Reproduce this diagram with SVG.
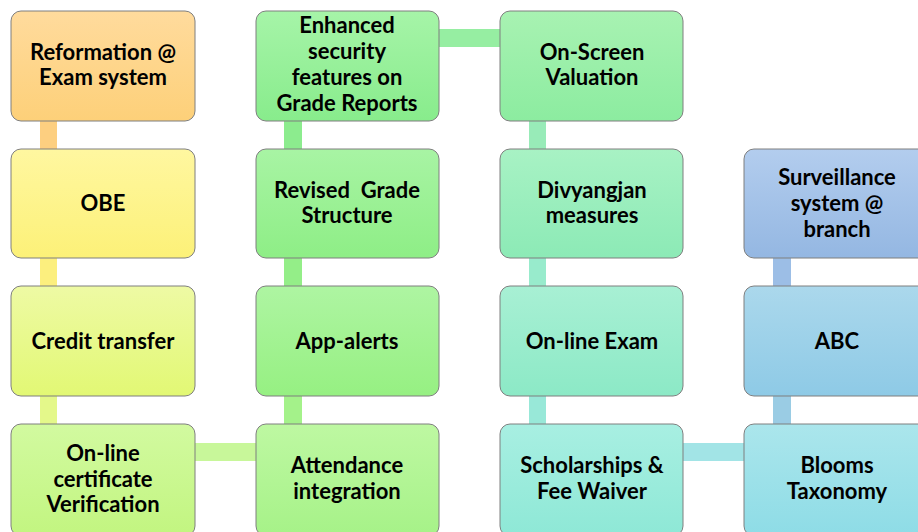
<svg xmlns="http://www.w3.org/2000/svg" width="918" height="532" viewBox="0 0 918 532">
<defs>
<linearGradient id="g1" x1="0" y1="0" x2="0" y2="1"><stop offset="0" stop-color="#FFDB9D"/><stop offset="1" stop-color="#FDD079"/></linearGradient>
<linearGradient id="g2" x1="0" y1="0" x2="0" y2="1"><stop offset="0" stop-color="#FFF7A0"/><stop offset="1" stop-color="#FCF178"/></linearGradient>
<linearGradient id="g3" x1="0" y1="0" x2="0" y2="1"><stop offset="0" stop-color="#EEFAA4"/><stop offset="1" stop-color="#E2F874"/></linearGradient>
<linearGradient id="g4" x1="0" y1="0" x2="0" y2="1"><stop offset="0" stop-color="#D2FAA0"/><stop offset="1" stop-color="#C2F580"/></linearGradient>
<linearGradient id="g5" x1="0" y1="0" x2="0" y2="1"><stop offset="0" stop-color="#BEF8A2"/><stop offset="1" stop-color="#A6F288"/></linearGradient>
<linearGradient id="g6" x1="0" y1="0" x2="0" y2="1"><stop offset="0" stop-color="#AEF5A2"/><stop offset="1" stop-color="#96F082"/></linearGradient>
<linearGradient id="g7" x1="0" y1="0" x2="0" y2="1"><stop offset="0" stop-color="#A8F4A4"/><stop offset="1" stop-color="#8EEE86"/></linearGradient>
<linearGradient id="g8" x1="0" y1="0" x2="0" y2="1"><stop offset="0" stop-color="#A6F4A8"/><stop offset="1" stop-color="#88EC8C"/></linearGradient>
<linearGradient id="g9" x1="0" y1="0" x2="0" y2="1"><stop offset="0" stop-color="#A8F2B2"/><stop offset="1" stop-color="#8CECA0"/></linearGradient>
<linearGradient id="g10" x1="0" y1="0" x2="0" y2="1"><stop offset="0" stop-color="#A8F2C4"/><stop offset="1" stop-color="#8CEAB6"/></linearGradient>
<linearGradient id="g11" x1="0" y1="0" x2="0" y2="1"><stop offset="0" stop-color="#A8F0D4"/><stop offset="1" stop-color="#8CE9C6"/></linearGradient>
<linearGradient id="g12" x1="0" y1="0" x2="0" y2="1"><stop offset="0" stop-color="#A8EFE2"/><stop offset="1" stop-color="#8EE8D6"/></linearGradient>
<linearGradient id="g13" x1="0" y1="0" x2="0" y2="1"><stop offset="0" stop-color="#ABE6EC"/><stop offset="1" stop-color="#8EDCE6"/></linearGradient>
<linearGradient id="g14" x1="0" y1="0" x2="0" y2="1"><stop offset="0" stop-color="#ABD8EC"/><stop offset="1" stop-color="#8ECAE6"/></linearGradient>
<linearGradient id="g15" x1="0" y1="0" x2="0" y2="1"><stop offset="0" stop-color="#B3CDEE"/><stop offset="1" stop-color="#94B7E2"/></linearGradient>
</defs>
<style>
.box{stroke:#7f7f7f;stroke-width:1}
.t{font-family:Lato,"Open Sans","Liberation Sans",sans-serif;font-weight:bold;font-size:22px;fill:#000;text-anchor:middle}
</style>
<rect width="918" height="532" fill="#ffffff"/>
<g id="connectors">
<rect x="40" y="120" width="17" height="30" fill="#FDCF80"/>
<rect x="40" y="258" width="17" height="29" fill="#FCEF7E"/>
<rect x="40" y="396" width="17" height="29" fill="#E4F88A"/>
<rect x="194" y="443" width="63" height="18" fill="#C8F79A"/>
<rect x="284" y="396" width="18" height="29" fill="#A4F28A"/>
<rect x="284" y="258" width="18" height="29" fill="#94EE88"/>
<rect x="284" y="120" width="18" height="30" fill="#8CEC8E"/>
<rect x="438" y="29" width="63" height="18" fill="#96EEA2"/>
<rect x="529" y="120" width="17" height="30" fill="#98EBB8"/>
<rect x="529" y="258" width="17" height="29" fill="#98EBCC"/>
<rect x="529" y="396" width="17" height="29" fill="#98E8D8"/>
<rect x="682" y="443" width="63" height="18" fill="#A2E4E6"/>
<rect x="773" y="396" width="18" height="29" fill="#9ACCE4"/>
<rect x="773" y="258" width="18" height="29" fill="#9CBEE6"/>
</g>
<g id="n1"><rect class="box" x="11" y="11" width="184" height="110" rx="10" fill="url(#g1)"/><text class="t" x="103" y="60">Reformation @</text><text class="t" x="103" y="85">Exam system</text></g>
<g id="n2"><rect class="box" x="11" y="149" width="184" height="109" rx="10" fill="url(#g2)"/><text class="t" x="103" y="211">OBE</text></g>
<g id="n3"><rect class="box" x="11" y="286" width="184" height="110" rx="10" fill="url(#g3)"/><text class="t" x="103" y="349">Credit transfer</text></g>
<g id="n4"><rect class="box" x="11" y="424" width="184" height="112" rx="10" fill="url(#g4)"/><text class="t" x="103" y="461">On-line</text><text class="t" x="103" y="487">certificate</text><text class="t" x="103" y="512">Verification</text></g>
<g id="n5"><rect class="box" x="256" y="424" width="183" height="112" rx="10" fill="url(#g5)"/><text class="t" x="347" y="473">Attendance</text><text class="t" x="347" y="499">integration</text></g>
<g id="n6"><rect class="box" x="256" y="286" width="183" height="110" rx="10" fill="url(#g6)"/><text class="t" x="347" y="349">App-alerts</text></g>
<g id="n7"><rect class="box" x="256" y="149" width="183" height="109" rx="10" fill="url(#g7)"/><text class="t" x="347" y="198" xml:space="preserve">Revised  Grade</text><text class="t" x="347" y="223">Structure</text></g>
<g id="n8"><rect class="box" x="256" y="11" width="183" height="110" rx="10" fill="url(#g8)"/><text class="t" x="347" y="33">Enhanced</text><text class="t" x="347" y="59">security</text><text class="t" x="347" y="85">features on</text><text class="t" x="347" y="111">Grade Reports</text></g>
<g id="n9"><rect class="box" x="500" y="11" width="183" height="110" rx="10" fill="url(#g9)"/><text class="t" x="592" y="60">On-Screen</text><text class="t" x="592" y="85">Valuation</text></g>
<g id="n10"><rect class="box" x="500" y="149" width="183" height="109" rx="10" fill="url(#g10)"/><text class="t" x="592" y="198">Divyangjan</text><text class="t" x="592" y="223">measures</text></g>
<g id="n11"><rect class="box" x="500" y="286" width="183" height="110" rx="10" fill="url(#g11)"/><text class="t" x="592" y="349">On-line Exam</text></g>
<g id="n12"><rect class="box" x="500" y="424" width="183" height="112" rx="10" fill="url(#g12)"/><text class="t" x="592" y="473">Scholarships &amp;</text><text class="t" x="592" y="499">Fee Waiver</text></g>
<g id="n13"><rect class="box" x="744" y="424" width="186" height="112" rx="10" fill="url(#g13)"/><text class="t" x="837" y="473">Blooms</text><text class="t" x="837" y="499">Taxonomy</text></g>
<g id="n14"><rect class="box" x="744" y="286" width="186" height="110" rx="10" fill="url(#g14)"/><text class="t" x="837" y="349">ABC</text></g>
<g id="n15"><rect class="box" x="744" y="149" width="186" height="109" rx="10" fill="url(#g15)"/><text class="t" x="837" y="185">Surveillance</text><text class="t" x="837" y="211">system @</text><text class="t" x="837" y="237">branch</text></g>
</svg>
